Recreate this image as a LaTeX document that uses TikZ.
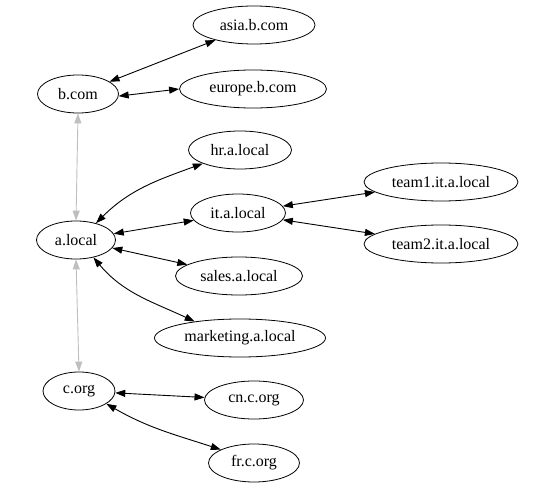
\documentclass[tikz,border=0pt]{standalone}
\usepackage{fontspec}
\setmainfont{Liberation Serif}
\usetikzlibrary{shapes.geometric,arrows.meta}
\begin{document}
\begin{tikzpicture}[x=1pt,y=-1pt,
    dom/.style={draw,ellipse,inner sep=0pt,minimum height=38pt,line width=0.8pt,
      font=\fontsize{16}{18}\selectfont},
    link/.style={{Triangle[length=10pt,width=7pt]}-{Triangle[length=10pt,width=7pt]},line width=0.9pt},
    peer/.style={link,gray!50}]

    \useasboundingbox (0,0) rectangle (554,489);

    % Roots
    \node[dom,minimum width=81pt] (bcom) at (78,94) {b.com};
    \node[dom,minimum width=79pt] (alocal) at (76,240) {a.local};
    \node[dom,minimum width=72pt] (corg) at (79,391) {c.org};

    % Children of b.com
    \node[dom,minimum width=122pt] (asia) at (254,25) {asia.b.com};
    \node[dom,minimum width=147pt] (europe) at (253,89) {europe.b.com};

    % Children of a.local
    \node[dom,minimum width=103pt] (hr) at (240,150) {hr.a.local};
    \node[dom,minimum width=95pt] (it) at (238,213) {it.a.local};
    \node[dom,minimum width=127pt] (sales) at (239,276) {sales.a.local};
    \node[dom,minimum width=171pt] (marketing) at (240,338) {marketing.a.local};

    % Children of it.a.local
    \node[dom,minimum width=154pt] (team1) at (441,182) {team1.it.a.local};
    \node[dom,minimum width=154pt] (team2) at (441,244) {team2.it.a.local};

    % Children of c.org
    \node[dom,minimum width=99pt] (cn) at (254,400) {cn.c.org};
    \node[dom,minimum width=91pt] (fr) at (254,463) {fr.c.org};

    % Trusts between roots
    \draw[peer] (bcom.south) -- (alocal.north);
    \draw[peer] (alocal.south) -- (corg.north);

    % Parent-child trusts
    \draw[link] (bcom) -- (asia);
    \draw[link] (bcom.-3) -- (europe.west);
    \draw[link] (alocal.40) to[out=45,in=200] (hr.200);
    \draw[link] (alocal) -- (it);
    \draw[link] (alocal) -- (sales);
    \draw[link] (alocal.-45) to[out=-50,in=155] (marketing.160);
    \draw[link] (it) -- (team1);
    \draw[link] (it) -- (team2);
    \draw[link] (corg) -- (cn);
    \draw[link] (corg.-25) to[out=-30,in=162] (fr.158);

\end{tikzpicture}
\end{document}
